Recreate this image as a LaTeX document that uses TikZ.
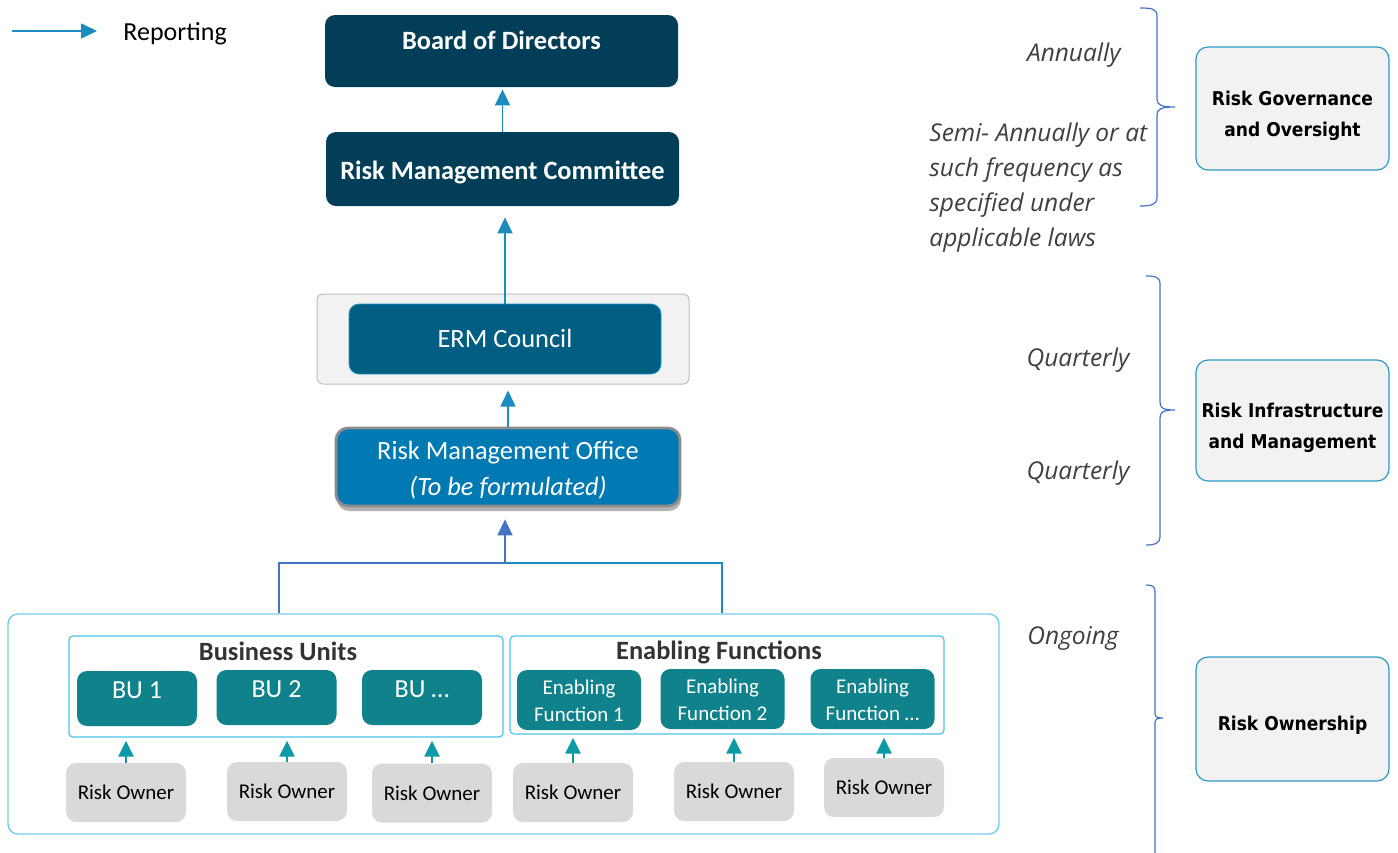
\documentclass[tikz,border=0pt]{standalone}
\usepackage{fontspec}
\setmainfont{Carlito}
\newfontfamily\freqfont{Open Sans}
\newfontfamily\levelfont{DejaVu Sans}[FakeStretch=0.9]
\usetikzlibrary{arrows.meta, shadows}

\definecolor{NavyBoard}{HTML}{033E59}
\definecolor{CouncilBlue}{HTML}{015E83}
\definecolor{CouncilEdge}{HTML}{1D9BC6}
\definecolor{OfficeBlue}{HTML}{017AB3}
\definecolor{OfficeEdge}{HTML}{8C8C8C}
\definecolor{UnitTeal}{HTML}{10828C}
\definecolor{OwnerGray}{HTML}{D9D9D9}
\definecolor{ReportBlue}{HTML}{1A8DBE}
\definecolor{MgmtBlue}{HTML}{4472C4}
\definecolor{OwnerTeal}{HTML}{0C9BA6}
\definecolor{GroupCyan}{HTML}{4DC2EA}
\definecolor{LevelEdge}{HTML}{2E9AC4}
\definecolor{PanelGray}{HTML}{F2F2F2}
\definecolor{PanelEdge}{HTML}{BFBFBF}
\definecolor{FreqGray}{HTML}{404040}
\definecolor{TitleGray}{HTML}{333333}

\newcommand\twolines[2]{\begin{tabular}[t]{@{}c@{}}#1\\#2\end{tabular}}

\begin{document}
\begin{tikzpicture}[x = 0.5pt, y = -0.5pt,
    every node/.style = {inner sep = 0pt, align = center},
    tier/.style = {rounded corners = 5pt, text = white, font = \fontsize{13.2}{16}\selectfont},
    unit/.style = {rounded corners = 5pt, fill = UnitTeal, text = white},
    owner/.style = {rounded corners = 5pt, fill = OwnerGray, minimum width = 60pt, minimum height = 29.5pt,
        font = \fontsize{10.5}{13}\selectfont},
    group/.style = {draw = GroupCyan, line width = 0.6pt, rounded corners = 2pt},
    report/.style = {draw = ReportBlue, line width = 0.8pt, -{Triangle[width = 7.5pt, length = 8pt]}},
    ownerarrow/.style = {draw = OwnerTeal, line width = 1.4pt, -{Triangle[width = 7.5pt, length = 8pt]}},
    freq/.style = {text = FreqGray, font = \freqfont\itshape\fontsize{12.25}{17.5}\selectfont},
    level/.style = {draw = LevelEdge, fill = PanelGray, line width = 0.6pt, rounded corners = 6pt,
        minimum width = 96.5pt, font = \levelfont\bfseries\fontsize{9.5}{15.5}\selectfont},
    brace/.style = {draw = MgmtBlue, line width = 0.6pt}]
    \useasboundingbox (0, 0) rectangle (1398, 852);

    % legend
    \coordinate (legstart) at (12, 31);
    \node [anchor = west, font = \fontsize{13}{16}\selectfont] (legtext) at (123, 34) {Reporting};
    \draw [report] (legstart) -- ([xshift = -13pt] legstart -| legtext.west);

    % reporting line
    \node [tier, fill = NavyBoard, minimum width = 176.5pt, minimum height = 36pt,
        text height = 9pt, text depth = 10.5pt] (board) at (501.5, 51) {\textbf{Board of Directors}};
    \node [tier, fill = NavyBoard, minimum width = 176.5pt, minimum height = 37pt,
        text height = 13pt, text depth = 2.5pt] (rmc) at (502.5, 169) {\textbf{Risk Management Committee}};
    \node [draw = PanelEdge, fill = PanelGray, line width = 0.5pt, rounded corners = 3pt,
        minimum width = 186pt, minimum height = 45pt] (ermpanel) at (503, 339) {};
    \node [tier, fill = CouncilBlue, draw = CouncilEdge, line width = 0.4pt,
        minimum width = 156pt, minimum height = 35pt, text height = 11pt, text depth = 2.5pt]
        (council) at (505, 339) {ERM Council};
    \node [tier, fill = OfficeBlue, draw = OfficeEdge, line width = 1.4pt, rounded corners = 6pt,
        minimum width = 172pt, minimum height = 39pt, font = \fontsize{13.2}{18}\selectfont,
        text height = 10pt, text depth = 17.5pt,
        drop shadow = {shadow xshift = 0.5pt, shadow yshift = -2.5pt, opacity = 0.3, fill = black}] (rmo)
        at (508, 467) {\twolines{Risk Management Office}{\textit{(To be formulated)}}};

    \draw [report, shorten >= 1pt] (rmc.north) -- (rmc.north |- board.south);
    \draw [report, shorten >= 5.5pt] (council.north) -- (council.north |- rmc.south);
    \draw [report, shorten >= 3pt] (rmo.north) -- (rmo.north |- ermpanel.south);

    % units and functions
    \node [group, draw = GroupCyan!80, line width = 0.7pt, rounded corners = 5pt,
        minimum width = 495.5pt, minimum height = 110pt] (owners) at (503.5, 724) {};
    \node [group, minimum width = 217pt, minimum height = 50.5pt] (bubox) at (286, 686.5) {};
    \node [group, minimum width = 217pt, minimum height = 49pt] (efbox) at (727, 685) {};
    \node [text = TitleGray, font = \bfseries\fontsize{13.2}{16}\selectfont] (butitle) at (278, 651) {Business Units};
    \node [text = TitleGray, font = \bfseries\fontsize{13.2}{16}\selectfont] (eftitle) at (719, 652) {Enabling Functions};

    \foreach \x/\y/\name [count = \i] in {137/698.5/BU 1, 276.5/697.5/BU 2, 422/697.5/BU \ldots} {
        \node [unit, minimum width = 60pt, minimum height = 27.5pt, font = \fontsize{13}{16}\selectfont,
            text height = 3pt, text depth = 2.6pt] (bu\i) at (\x, \y) {\name};
    }
    \foreach \x/\y/\name [count = \i] in {579/700/1, 722.5/699/2, 872.5/699/\ldots} {
        \node [unit, minimum width = 62pt, minimum height = 30pt, font = \fontsize{10.5}{13.5}\selectfont,
            text height = 8pt, text depth = 13.2pt] (ef\i) at (\x, \y) {\twolines{Enabling}{Function \name}};
    }
    \foreach \x/\y [count = \i] in {126/792.5, 287/791.5, 432/793, 573/792.5, 734/791.5, 884/787.5} {
        \node [owner] (owner\i) at (\x, \y) {Risk Owner};
    }
    \foreach \i in {1, 2, 3} {
        \draw [ownerarrow, shorten >= 1.5pt] (owner\i.north) -- (owner\i.north |- bubox.south);
    }
    \foreach \i in {4, 5, 6} {
        \draw [ownerarrow, shorten >= 1.5pt] (owner\i.north) -- (owner\i.north |- efbox.south);
    }

    % split up to the office
    \coordinate (join) at (505, 563);
    \coordinate (busplit) at (279, 563);
    \coordinate (efsplit) at (722, 563);
    \draw [MgmtBlue, line width = 0.75pt] (busplit |- owners.north) -- (busplit) -- (join);
    \draw [ReportBlue, line width = 0.75pt] (join) -- (efsplit) -- (efsplit |- owners.north);
    \draw [report, draw = MgmtBlue, shorten >= 6pt] (join) -- (join |- rmo.south);

    % frequencies
    \node [freq, anchor = east] (annual) at (1121, 55) {Annually};
    \node [freq, anchor = north west, align = left] (semi) at (929, 122)
        {Semi- Annually or at\\such frequency as\\specified under\\applicable laws};
    \node [freq] (quart1) at (1078, 360) {Quarterly};
    \node [freq] (quart2) at (1078, 473) {Quarterly};
    \node [freq] (ongoing) at (1073, 638) {Ongoing};

    \draw [brace] (1140, 8) .. controls (1152, 8) and (1157, 9) .. (1157, 16) -- (1157, 99)
        .. controls (1157, 105) and (1161, 107) .. (1175, 107)
        .. controls (1161, 107) and (1157, 109) .. (1157, 115) -- (1157, 198)
        .. controls (1157, 204) and (1152, 206) .. (1140, 206);
    \draw [brace] (1146, 276) .. controls (1155, 276) and (1160, 277) .. (1160, 284) -- (1160, 402)
        .. controls (1160, 408) and (1163, 410) .. (1175, 410)
        .. controls (1163, 410) and (1160, 412) .. (1160, 418) -- (1160, 537)
        .. controls (1160, 543) and (1155, 545) .. (1146, 545);
    \draw [brace] (1146, 585) .. controls (1152, 585) and (1155, 586) .. (1155, 592) -- (1155, 713)
        .. controls (1155, 717) and (1157, 718) .. (1163, 718)
        .. controls (1157, 718) and (1155, 719) .. (1155, 723) -- (1155, 860);

    % levels
    \node [level, minimum height = 61.5pt, text height = 10pt, text depth = 12.56pt] (governance)
        at (1292.5, 108.5) {\twolines{Risk Governance}{and Oversight}};
    \node [level, minimum height = 60.5pt, text height = 10pt, text depth = 12.56pt] (infra)
        at (1292.5, 420.5) {\twolines{Risk Infrastructure}{and Management}};
    \node [level, minimum height = 62pt, text height = 14pt, text depth = 2.06pt] (ownership)
        at (1292.5, 719) {Risk Ownership};
\end{tikzpicture}
\end{document}
